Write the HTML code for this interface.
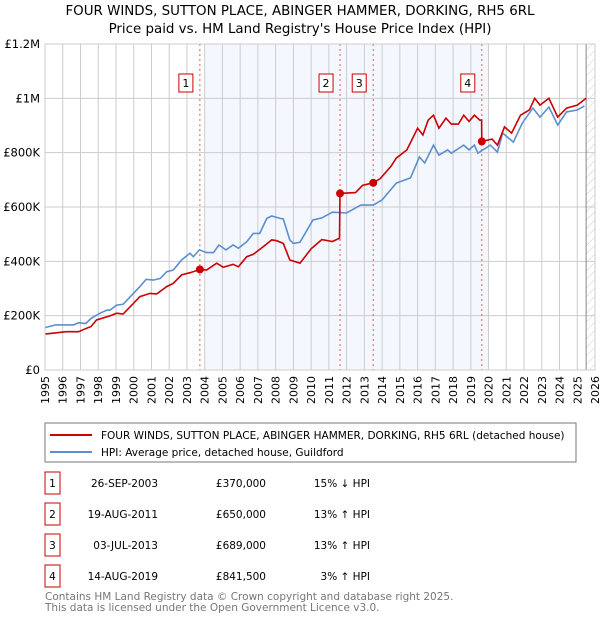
<!DOCTYPE html>
<html><head><meta charset="utf-8"><style>
body{margin:0;background:#fff;font-family:"DejaVu Sans","Liberation Sans",sans-serif;}
svg text{font-family:"DejaVu Sans","Liberation Sans",sans-serif;}
</style></head><body>
<svg id="c" width="600" height="620" xmlns="http://www.w3.org/2000/svg">
<defs><pattern id="hatch" width="6" height="6" patternUnits="userSpaceOnUse" patternTransform="rotate(45)"><line x1="0" y1="0" x2="0" y2="6" stroke="#ccc" stroke-width="1"/></pattern></defs>
<text x="300" y="15" text-anchor="middle" font-size="13.4" fill="#000">FOUR WINDS, SUTTON PLACE, ABINGER HAMMER, DORKING, RH5 6RL</text>
<text x="300" y="33" text-anchor="middle" font-size="13.4" fill="#000">Price paid vs. HM Land Registry's House Price Index (HPI)</text>
<g id="plot"></g>
<g>
<rect x="45" y="423" width="531" height="39" fill="#fff" stroke="#777"/>
<line x1="50" y1="435" x2="92" y2="435" stroke="#cc0000" stroke-width="2"/>
<text x="101" y="439" font-size="10.5">FOUR WINDS, SUTTON PLACE, ABINGER HAMMER, DORKING, RH5 6RL (detached house)</text>
<line x1="50" y1="452" x2="92" y2="452" stroke="#5b8fd0" stroke-width="2"/>
<text x="101" y="456" font-size="10.5">HPI: Average price, detached house, Guildford</text>
</g>
<g id="table" font-size="10.5"></g>
<text x="45" y="600" font-size="10.5" fill="#777">Contains HM Land Registry data © Crown copyright and database right 2025.</text>
<text x="45" y="611" font-size="10.5" fill="#777">This data is licensed under the Open Government Licence v3.0.</text>
</svg>
<script>
const hpiYears=[1995.0,1995.6,1996.6,1996.9,1997.3,1997.6,1998.1,1998.5,1998.66,1999.04,1999.4,1999.98,2000.35,2000.7,2001.1,2001.5,2001.86,2002.23,2002.7,2003.17,2003.36,2003.7,2004.1,2004.5,2004.8,2005.2,2005.6,2005.9,2006.37,2006.74,2007.1,2007.5,2007.78,2008.25,2008.43,2008.8,2009.0,2009.37,2010.1,2010.6,2011.2,2012.0,2012.8,2013.5,2014.0,2014.8,2015.6,2016.1,2016.4,2016.9,2017.2,2017.7,2017.9,2018.6,2018.9,2019.2,2019.4,2020.1,2020.5,2020.8,2021.4,2021.9,2022.5,2022.9,2023.4,2023.9,2024.4,2025.0,2025.4];
const hpiValues=[156,166,166,174,171,190,209,221,220,239,242,282,307,334,331,337,362,368,405,430,417,442,432,432,460,442,460,448,472,503,503,558,567,558,556,479,466,470,552,560,581,578,607,607,626,688,707,784,762,828,791,810,798,828,810,828,798,828,802,872,839,909,964,931,968,902,950,957,972];
const priceYears=[1995.0,1996.2,1996.9,1997.2,1997.6,1997.9,1998.66,1999.04,1999.4,1999.98,2000.35,2000.92,2001.3,2001.86,2002.23,2002.7,2003.17,2003.73,2004.1,2004.68,2005.05,2005.6,2005.9,2006.37,2006.74,2007.3,2007.78,2008.06,2008.43,2008.8,2009.37,2010.0,2010.6,2011.2,2011.6,2011.63,2012.5,2012.9,2013.5,2013.9,2014.5,2014.8,2015.4,2016.0,2016.3,2016.6,2016.9,2017.2,2017.6,2017.9,2018.3,2018.6,2018.9,2019.2,2019.5,2019.61,2019.62,2020.2,2020.5,2020.9,2021.3,2021.8,2022.3,2022.6,2022.9,2023.4,2023.9,2024.4,2025.0,2025.5];
const priceValues=[132,141,141,150,160,184,199,209,206,245,270,282,280,307,319,350,358,370,368,393,378,389,380,417,426,454,479,476,466,405,393,446,480,473,485,650,653,680,689,705,750,780,810,890,865,920,938,890,927,905,905,938,915,938,920,920,841.5,850,828,895,872,938,957,1000,975,1000,931,964,975,1000];
const saleYears=[2003.73,2011.63,2013.5,2019.62];
const saleValues=[370,650,689,841.5];
const saleLabels=["1","2","3","4"];
const saleDates=["26-SEP-2003","19-AUG-2011","03-JUL-2013","14-AUG-2019"];
const salePrices=["£370,000","£650,000","£689,000","£841,500"];
const saleHpi=["15% ↓ HPI","13% ↑ HPI","13% ↑ HPI","3% ↑ HPI"];
const yTicks=[0,200,400,600,800,1000,1200];
const yTickLabels=["£0","£200K","£400K","£600K","£800K","£1M","£1.2M"];
const xTicks=[];for(let y=1995;y<=2026;y++)xTicks.push(y);

const X0=45,X1=595,Y0=370,Y1=44;
const xs=t=>X0+(t-1995)/31*(X1-X0);
const ys=v=>Y0-v/1200*(Y0-Y1);
const NS="http://www.w3.org/2000/svg";
const plot=document.getElementById('plot');
function mk(tag,attrs,parent){const e=document.createElementNS(NS,tag);for(const k in attrs)e.setAttribute(k,attrs[k]);(parent||plot).appendChild(e);return e;}

let shade=mk('rect',{x:xs(2004),y:Y1,width:xs(2020)-xs(2004),height:Y0-Y1,fill:'#f4f7fd'});


let hat=mk('rect',{x:xs(2025.5),y:Y1,width:X1-xs(2025.5),height:Y0-Y1,fill:'url(#hatch)'});



xTicks.forEach(t=>{
  let g=mk('line',{x1:xs(t),x2:xs(t),y1:Y1,y2:Y0,stroke:'#ccc','stroke-width':1});
  
  
  let l=mk('text',{x:0,y:0,'font-size':11,'text-anchor':'end',transform:`translate(${xs(t)+4},${Y0+6}) rotate(-90)`});
  l.textContent=t;
  
  
});
yTicks.forEach((v,i)=>{
  let g=mk('line',{x1:X0,x2:X1,y1:ys(v),y2:ys(v),stroke:'#ccc','stroke-width':1});
  
  
  let l=mk('text',{x:40,y:ys(v)+4,'font-size':11.5,'text-anchor':'end'});
  l.textContent=yTickLabels[i];
  
  
});
let nowl=mk('line',{x1:xs(2025.5),x2:xs(2025.5),y1:Y1,y2:Y0,stroke:'#888','stroke-width':1});



saleYears.forEach((t,i)=>{
  let d=mk('line',{x1:xs(t),x2:xs(t),y1:Y1,y2:Y0,stroke:'#ee5555','stroke-width':1,'stroke-dasharray':'2,3'});
  
  
});

let hp=mk('path',{d:hpiYears.map((t,i)=>(i?'L':'M')+xs(t).toFixed(1)+','+ys(hpiValues[i]).toFixed(1)).join(''),fill:'none',stroke:'#5b8fd0','stroke-width':1.6});


let pp=mk('path',{d:priceYears.map((t,i)=>(i?'L':'M')+xs(t).toFixed(1)+','+ys(priceValues[i]).toFixed(1)).join(''),fill:'none',stroke:'#cc0000','stroke-width':1.6});



saleYears.forEach((t,i)=>{
  let c=mk('circle',{cx:xs(t),cy:ys(saleValues[i]),r:4,fill:'#cc0000'});
  
  
  let b=mk('rect',{x:xs(t)-21,y:74,width:14,height:18,fill:'#fff',stroke:'#cc0000'});
  
  
  let l=mk('text',{x:xs(t)-14,y:87,'font-size':11,'text-anchor':'middle'});
  l.textContent=saleLabels[i];
  
  
});
let border=mk('rect',{x:X0,y:Y1,width:X1-X0,height:Y0-Y1,fill:'none',stroke:'#ccc'});



const table=document.getElementById('table');
saleLabels.forEach((s,i)=>{
  const cy=483+i*31;
  let b=mk('rect',{x:45,y:cy-11,width:15,height:22,fill:'#fff',stroke:'#cc0000'},table);
  
  
  let n=mk('text',{x:52.5,y:cy+4,'text-anchor':'middle'},table);n.textContent=s;
  
  
  let d=mk('text',{x:158,y:cy+4,'text-anchor':'end'},table);d.textContent=saleDates[i];
  
  
  let p=mk('text',{x:266,y:cy+4,'text-anchor':'end'},table);p.textContent=salePrices[i];
  
  
  let h=mk('text',{x:370,y:cy+4,'text-anchor':'end'},table);h.textContent=saleHpi[i];
  
  
});
</script>
</body></html>
